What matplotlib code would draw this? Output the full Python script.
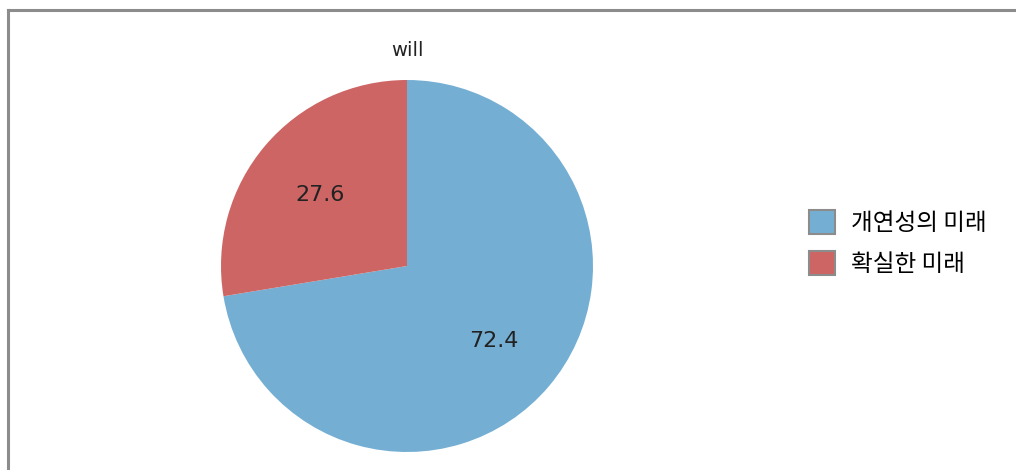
import matplotlib
matplotlib.use("Agg")
import numpy as np
import matplotlib.pyplot as plt
from matplotlib.lines import Line2D
from matplotlib.patches import Patch

plt.rcParams['font.family'] = ['Noto Sans CJK KR', 'DejaVu Sans']

# 데이터
title = "will"
labels = ["개연성의 미래", "확실한 미래"]
values = [72.4, 27.6]
colors = ["#74afd3", "#cd6564"]

W, H = 1016, 470
fig = plt.figure(figsize=(W / 100, H / 100), dpi=100)

# 바깥 테두리 (왼쪽, 위쪽만 보임)
fig.add_artist(Line2D([7.5 / W, 7.5 / W], [0, 1 - 10 / H], color="#8c8c8c", lw=2.2,
                      transform=fig.transFigure, solid_capstyle="projecting"))
fig.add_artist(Line2D([7.5 / W, 1], [1 - 10 / H, 1 - 10 / H], color="#8c8c8c", lw=2.2,
                      transform=fig.transFigure, solid_capstyle="projecting"))

cx, cy, r = 407, 266, 186
ax = fig.add_axes([(cx - r) / W, (H - cy - r) / H, 2 * r / W, 2 * r / H])
wedges, texts = ax.pie(values, colors=colors, startangle=90, counterclock=False,
                       wedgeprops=dict(linewidth=0))
for w, v in zip(wedges, values):
    ang = np.deg2rad((w.theta1 + w.theta2) / 2)
    ax.text(0.61 * np.cos(ang), 0.61 * np.sin(ang), f"{v}", ha="center",
            va="center_baseline", fontsize=16, color="#222222", family="DejaVu Sans")
ax.set_xlim(-1, 1)
ax.set_ylim(-1, 1)
ax.set_aspect("auto")

fig.text(cx / W, 1 - 50 / H, title, ha="center", va="center", fontsize=14,
         color="#222222", family="DejaVu Sans")

handles = [Patch(facecolor=c, edgecolor="#8c8c8c", linewidth=1.5) for c in colors]
fig.legend(handles, labels, loc="center left", bbox_to_anchor=(788 / W, 1 - 243 / H),
           frameon=False, fontsize=17, handlelength=1.1, handleheight=1.2,
           handletextpad=0.65, labelspacing=0.65)

fig.savefig("out.png", dpi=100)
